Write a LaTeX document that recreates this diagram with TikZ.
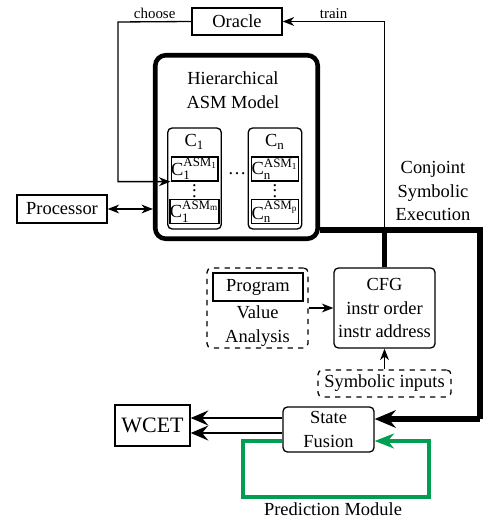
\documentclass[tikz,border=0pt]{standalone}
\usepackage{fontspec}
\setmainfont{Liberation Serif}
\setmathrm{Liberation Serif}
\usepackage{tikz}
\usetikzlibrary{arrows,arrows.meta,shapes}
\usetikzlibrary{calc}
\definecolor{predgreen}{RGB}{0,158,80}
\tikzstyle{txt}=[font=\fontsize{10.5}{13.6}\selectfont,align=center,inner sep=1pt]
\tikzstyle{smalltxt}=[font=\fontsize{8.5}{10}\selectfont,inner sep=1.5pt]
\tikzstyle{box}=[txt,draw,rectangle,inner sep=0pt,line width=0.75pt]
\tikzstyle{roundbox}=[box,rounded corners=2.5pt]
\tikzstyle{dashbox}=[box,dashed,rounded corners=2.5pt]
\tikzstyle{modelbox}=[draw,rectangle,rounded corners=6pt,line width=2.6pt,minimum width=32.5mm,minimum height=36.7mm]
\tikzstyle{edge} = [draw,line width=0.75pt,-{Stealth[length=6.5pt,width=5pt,inset=2pt]}]
\tikzstyle{bothedge} = [draw,line width=0.75pt,{Stealth[length=6.5pt,width=5pt,inset=2pt]}-{Stealth[length=6.5pt,width=5pt,inset=2pt]}]
\tikzstyle{thickline} = [draw,line width=3.4pt]
\tikzstyle{thickedge} = [thickline,-{Stealth[length=12pt,width=10pt,inset=4pt]}]
\tikzstyle{wcetedge} = [draw,line width=1.3pt,-{Stealth[length=10pt,width=8.5pt,inset=3.5pt]}]
\tikzstyle{predline} = [draw,line width=1.8pt,predgreen,-{Stealth[length=11pt,width=8.5pt,inset=3.5pt]}]
\newcommand{\casm}[2]{$\mathrm{C}^{\mathrm{ASM}_{\scriptscriptstyle\mathrm{#1}}}_{\mathrm{#2}}$}
\newcommand{\tightvdots}{\vbox{\baselineskip=3.3pt\lineskiplimit=-10pt\hbox{.}\hbox{.}\hbox{.}}}

\begin{document}
\begin{tikzpicture}[x=0.2mm,y=-0.2mm]
  \useasboundingbox (0,0) rectangle (485,518);

  % model with its components
  \node[modelbox] (hasm) at (236.5,147) {};
  \node[txt] (htitle) at (233,90) {Hierarchical\\ASM Model};
  \foreach \pos/\name/\idx/\last in {194.5/c1/1/m, 275/cn/n/p}{
    \node[roundbox,minimum width=10.7mm,minimum height=20.2mm] (\name) at (\pos,178.5) {};
    \node[txt] (\name-lbl) at (\pos,142) {$\mathrm{C}_\mathrm{\idx}$};
    \node[box,minimum width=8.6mm,minimum height=4.8mm] (\name-top) at (\pos,169) {\casm{1}{\idx}};
    \node[txt,inner sep=0pt] (\name-dots) at (\pos,191) {\tightvdots};
    \node[box,minimum width=8.6mm,minimum height=4.8mm] (\name-bot) at (\pos,211.5) {\casm{\last}{\idx}};
  }
  \node[txt] (cdots) at (237,174) {\dots};

  \node[box,minimum width=18mm,minimum height=5.4mm] (oracle) at (237,21.5) {Oracle};
  \node[box,minimum width=18mm,minimum height=5.6mm] (proc) at (62,209) {Processor};

  % analysis part
  \node[dashbox,minimum width=20.2mm,minimum height=16mm] (valbox) at (257.5,308) {};
  \node[box,minimum width=18mm,minimum height=5.6mm] (prog) at (258,287) {Program};
  \node[txt] (vallbl) at (257.5,326) {Value\\Analysis};
  \node[roundbox,minimum width=20.2mm,minimum height=16mm] (cfg) at (384.5,308)
    {CFG\\instr order\\instr address};
  \node[dashbox,minimum width=26.6mm,minimum height=5.4mm] (syminp) at (384.5,383.5) {Symbolic inputs};
  \node[txt] (conj) at (433,191) {Conjoint\\Symbolic\\Execution};

  \node[roundbox,minimum width=18.2mm,minimum height=9mm] (sf) at (328.5,429.5) {State\\Fusion};
  \node[box,minimum width=15mm,minimum height=8.2mm,font=\fontsize{12.5}{14}\selectfont] (wcet) at (152.5,425.5) {WCET};
  \node[txt] (predlbl) at (333,509) {Prediction Module};

  % oracle loop
  \coordinate (choosecorner) at (118,22);
  \coordinate (split) at (cfg.north |- 0,230);
  \draw[edge] (oracle.west) -- node[smalltxt,above] {choose} (choosecorner) |- (c1-top.south west);
  \draw[edge] (split) |- node[smalltxt,above,pos=0.75] {train} (oracle.east);
  \draw[bothedge] (proc) -- (proc -| hasm.west);

  % symbolic execution
  \coordinate (bend) at (480,419);
  \draw[thickline,line join=miter] (hasm.east |- split) -| (bend);
  \draw[thickedge] (bend) -- (sf.east |- bend);
  \draw[thickline] (cfg.north) -- (split);
  \draw[edge] (valbox.east) -- (cfg.west);
  \draw[edge] (syminp.north) -- (cfg.south);

  % results
  \foreach \yy in {418,433}
    \draw[wcetedge] (sf.west |- 0,\yy) -- (wcet.east |- 0,\yy);
  \coordinate (pl) at (243,497);
  \coordinate (pr) at (429,497);
  \draw[predline] (sf.west |- 0,441) -| (pl) -- (pr) |- (sf.east |- 0,441);
\end{tikzpicture}
\end{document}
